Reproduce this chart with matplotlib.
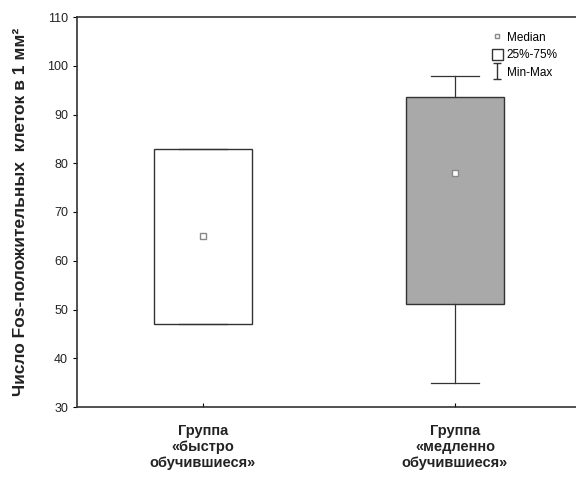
import matplotlib
matplotlib.use("Agg")
import matplotlib.pyplot as plt
from matplotlib.lines import Line2D
from matplotlib.patches import Patch
from matplotlib.path import Path

plt.rcParams['font.family'] = ['Liberation Sans', 'DejaVu Sans']

# values
groups = ['Группа\n«быстро\nобучившиеся»', 'Группа\n«медленно\nобучившиеся»']
medians = [65, 78]
q1 = [47, 51.2]
q3 = [83, 93.5]
mins = [47, 35]
maxs = [83, 98]
fills = ['white', '#a9a9a9']

stats = []
for i in range(len(groups)):
    stats.append({'med': medians[i], 'q1': q1[i], 'q3': q3[i],
                  'whislo': mins[i], 'whishi': maxs[i], 'label': groups[i]})

fig = plt.figure(figsize=(5.76, 4.84), dpi=100)
ax = fig.add_axes([77 / 576, 1 - 407 / 484, 504 / 576, 390 / 484])

bp = ax.bxp(stats, positions=[0, 1], widths=0.39, showfliers=False,
            patch_artist=True, manage_ticks=False,
            boxprops=dict(edgecolor='#333333', linewidth=1.0),
            whiskerprops=dict(color='#333333', linewidth=0.9),
            capprops=dict(color='#333333', linewidth=0.9),
            medianprops=dict(linewidth=0))
for patch, c in zip(bp['boxes'], fills):
    patch.set_facecolor(c)
for cap in bp['caps']:
    x = cap.get_xdata()
    mid = (x[0] + x[1]) / 2
    cap.set_xdata([mid - 0.095, mid + 0.095])

ax.plot([0, 1], medians, linestyle='none', marker='s', markersize=4,
        markerfacecolor='white', markeredgecolor='#888888', markeredgewidth=1.0, zorder=5)

ax.set_xlim(-0.5, 1.5)
ax.set_ylim(30, 110)
ax.set_yticks(range(30, 111, 10))
ax.set_xticks([0, 1])
ax.set_xticklabels(groups, fontsize=10.5, fontweight='bold', color='#222222')
ax.tick_params(axis='x', direction='in', length=3, pad=12)
ax.tick_params(axis='y', direction='out', length=3, labelsize=9, labelcolor='#222222')
ax.set_ylabel('Число Fos-положительных  клеток в 1 мм²', fontsize=12.5,
              fontweight='bold', color='#222222', labelpad=14)
for s in ax.spines.values():
    s.set_color('#333333')
    s.set_linewidth(1.2)

# I-beam marker for the Min-Max legend entry
ibeam = Path([(-0.5, 1), (0.5, 1), (0, 1), (0, -1), (-0.5, -1), (0.5, -1)],
             [Path.MOVETO, Path.LINETO, Path.MOVETO, Path.LINETO, Path.MOVETO, Path.LINETO])
handles = [Line2D([], [], linestyle='none', marker='s', markersize=3,
                  markerfacecolor='white', markeredgecolor='#888888'),
           Patch(facecolor='white', edgecolor='#333333'),
           Line2D([], [], linestyle='none', marker=ibeam, markersize=11,
                  markeredgewidth=1.0, color='#333333')]
ax.legend(handles, ['Median', '25%-75%', 'Min-Max'], loc='upper right',
          bbox_to_anchor=(0.975, 0.99), frameon=False, fontsize=8.5,
          handlelength=0.9, handleheight=1.0, handletextpad=0.35, labelspacing=0.45)

fig.savefig('out.png', dpi=100)
